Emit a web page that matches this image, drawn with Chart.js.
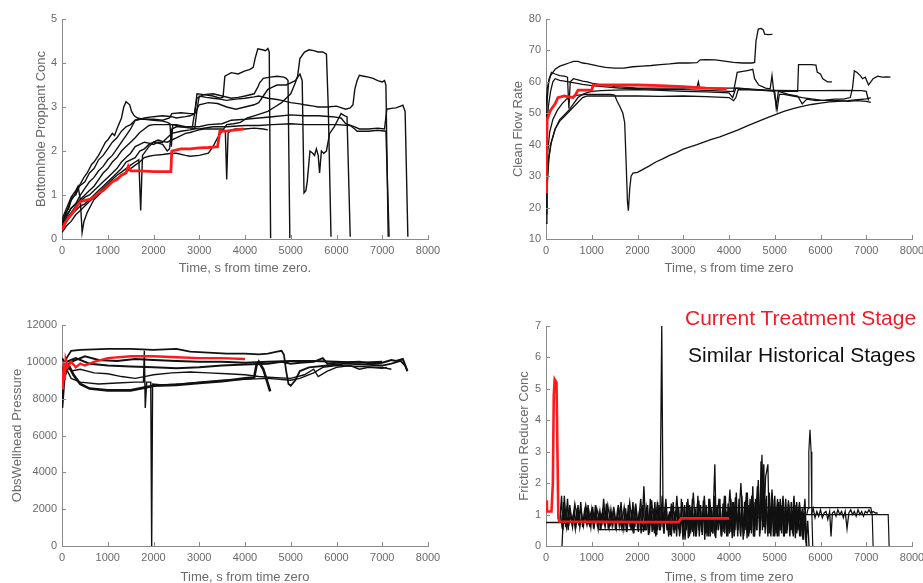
<!DOCTYPE html>
<html><head><meta charset="utf-8">
<script src="https://cdn.jsdelivr.net/npm/chart.js@4"></script>
<style>
html,body{margin:0;padding:0;background:#fff;width:923px;height:583px;overflow:hidden;position:relative;}
canvas{position:absolute;}
.leg{position:absolute;font-family:"Liberation Sans",Arial,sans-serif;font-size:21px;white-space:nowrap;line-height:24px;}
</style></head><body>
<canvas id="c1" width="450" height="290" style="left:0;top:0"></canvas>
<canvas id="c2" width="480" height="290" style="left:460px;top:0"></canvas>
<canvas id="c3" width="450" height="290" style="left:0;top:295px"></canvas>
<canvas id="c4" width="480" height="290" style="left:460px;top:295px"></canvas>
<div class="leg" style="left:685px;top:306px;color:#ee1c25">Current Treatment Stage</div>
<div class="leg" style="left:688px;top:343px;color:#111">Similar Historical Stages</div>
<script>
// ---------- tick labels ----------
const timeTicks = [0,1000,2000,3000,4000,5000,6000,7000,8000];
const bhTicks = [0,1,2,3,4,5];
const cfTicks = [10,20,30,40,50,60,70,80];
const wpTicks = [0,2000,4000,6000,8000,10000,12000];
const frTicks = [0,1,2,3,4,5,6,7];

// ---------- Bottomhole Proppant Conc ----------
const bhCurrent = [[0,0.2],[60,0.35],[120,0.45],[200,0.55],[300,0.7],[400,0.85],[500,0.88],[600,0.9],[700,0.95],[800,1.05],[900,1.1],[1000,1.2],[1100,1.3],[1200,1.35],[1300,1.45],[1400,1.5],[1450,1.65],[1500,1.55],[1600,1.55],[1700,1.55],[2000,1.53],[2380,1.53],[2400,2.0],[2600,2.05],[2800,2.05],[3000,2.07],[3200,2.08],[3400,2.1],[3450,2.45],[3600,2.45],[3800,2.48],[3970,2.5]];
const bhHist1 = [[0,0.35],[80,0.6],[150,0.7],[220,0.95],[300,1.0],[380,1.2],[500,1.3],[600,1.5],[700,1.6],[800,1.8],[900,1.9],[1000,2.05],[1100,2.2],[1200,2.3],[1300,2.45],[1400,2.55],[1500,2.6],[1600,2.7],[1700,2.72],[2000,2.72],[2200,2.7],[2350,2.75],[2400,2.85],[2600,2.87],[2800,2.85],[2900,2.85],[2950,3.3],[3100,3.28],[3300,3.25],[3450,3.2],[3520,3.22],[3560,3.7],[3700,3.78],[3850,3.75],[4000,3.82],[4100,3.85],[4180,3.9],[4220,4.1],[4280,4.32],[4380,4.3],[4450,4.28],[4500,4.33],[4530,4.25],[4560,0.02]];
const bhHist2 = [[0,0.3],[100,0.6],[180,0.85],[250,0.95],[320,1.1],[400,1.25],[480,1.4],[550,1.5],[650,1.7],[700,1.75],[800,1.9],[850,2.0],[950,2.2],[1000,2.25],[1100,2.4],[1150,2.35],[1200,2.5],[1300,2.75],[1350,3.0],[1400,3.12],[1480,3.05],[1520,2.9],[1580,2.8],[1650,2.75],[1800,2.72],[2000,2.7],[2200,2.68],[2300,2.65],[2360,2.62],[2390,2.1],[2420,2.6],[2600,2.55],[2800,2.52],[3000,2.5],[3300,2.55],[3600,2.55],[4000,2.58],[4300,2.58],[4600,2.6],[5000,2.62],[5300,2.6],[5600,2.6],[6000,2.6],[6300,2.58],[6400,2.5],[6450,2.45],[6700,2.45],[6900,2.47],[7080,2.45],[7150,0.05]];
const bhHist3 = [[0,0.4],[100,0.55],[200,0.7],[300,0.8],[400,0.9],[500,1.0],[600,1.1],[700,1.2],[800,1.35],[900,1.5],[1000,1.6],[1100,1.75],[1200,1.85],[1300,2.0],[1400,2.1],[1500,2.2],[1600,2.3],[1700,2.42],[1800,2.5],[1900,2.58],[2000,2.6],[2300,2.6],[2500,2.6],[2700,2.55],[3000,2.55],[3200,2.6],[3500,2.62],[3700,2.7],[4000,2.72],[4300,2.75],[4600,2.78],[5000,2.82],[5300,2.8],[5600,2.8],[5900,2.78],[6100,2.75],[6200,2.62],[6400,2.55],[6500,2.5],[6700,2.5],[6900,2.52],[7050,2.5],[7100,2.95],[7200,2.97],[7300,2.98],[7400,3.02],[7450,3.04],[7500,2.9],[7560,0.05]];
const bhHist4 = [[0,0.25],[100,0.45],[200,0.6],[300,0.75],[400,0.85],[500,0.95],[600,1.0],[700,1.1],[800,1.2],[900,1.3],[1000,1.4],[1100,1.5],[1200,1.6],[1300,1.75],[1400,1.85],[1500,1.95],[1600,2.1],[1700,2.15],[1800,2.2],[1900,2.18],[2000,2.15],[2100,2.2],[2200,2.2],[2300,2.3],[2400,2.4],[2600,2.45],[2800,2.48],[2900,2.5],[2960,3.0],[3000,3.25],[3150,3.22],[3300,3.2],[3450,3.18],[3600,3.15],[3800,3.18],[4000,3.2],[4200,3.23],[4300,3.25],[4500,3.2],[4700,3.17],[4800,3.15],[5000,3.1],[5200,3.07],[5300,3.05],[5500,3.02],[5600,3.0],[5800,3.0],[6000,3.02],[6200,2.95],[6300,2.98],[6360,3.05],[6400,3.4],[6450,3.6],[6500,3.72],[6600,3.7],[6700,3.68],[6800,3.65],[6900,3.6],[7000,3.57],[7050,3.6],[7080,3.5],[7130,0.05]];
const bhHist5 = [[0,0.2],[100,0.4],[200,0.55],[300,0.65],[400,0.75],[500,0.8],[600,0.9],[700,1.0],[800,1.1],[900,1.2],[1000,1.3],[1100,1.4],[1200,1.5],[1300,1.6],[1400,1.75],[1500,1.8],[1600,1.85],[1700,2.0],[1800,2.05],[1900,2.15],[2000,2.2],[2100,2.18],[2200,2.15],[2300,2.0],[2350,2.05],[2400,2.5],[2500,2.55],[2700,2.55],[2850,2.55],[2950,3.2],[3100,3.28],[3300,3.3],[3500,3.25],[3700,3.2],[3850,3.22],[4000,3.25],[4200,3.3],[4280,3.45],[4320,3.55],[4400,3.65],[4550,3.68],[4700,3.7],[4850,3.68],[4900,3.65],[4940,3.6],[4980,0.02]];
const bhHist6 = [[0,0.3],[100,0.5],[200,0.7],[300,0.8],[400,1.0],[500,1.15],[600,1.3],[700,1.4],[800,1.55],[900,1.65],[1000,1.8],[1100,1.9],[1200,2.05],[1300,2.2],[1400,2.35],[1500,2.5],[1600,2.7],[1700,2.72],[1800,2.75],[2000,2.78],[2200,2.8],[2400,2.78],[2500,2.75],[2700,2.78],[2800,2.8],[2900,2.85],[3000,3.05],[3200,3.1],[3400,3.08],[3600,3.0],[3800,2.95],[4000,3.0],[4200,3.05],[4300,3.1],[4400,3.25],[4500,3.4],[4600,3.45],[4700,3.5],[4900,3.5],[5000,3.55],[5100,3.6],[5200,3.75],[5250,3.6],[5290,1.05],[5330,1.1],[5360,1.3],[5420,2.0],[5480,1.95],[5520,1.9],[5560,2.05],[5600,1.9],[5630,1.5],[5670,2.0],[5720,1.95],[5780,2.0],[5850,2.4],[5950,2.55],[6050,2.75],[6100,2.85],[6180,2.8],[6230,2.78],[6300,0.05]];
const bhHist7 = [[0,0.45],[100,0.7],[200,0.95],[300,1.1],[350,1.2],[400,0.9],[440,0.15],[480,0.4],[550,0.6],[650,0.8],[700,0.9],[800,1.0],[900,1.1],[1000,1.2],[1100,1.3],[1200,1.38],[1300,1.45],[1400,1.52],[1500,1.6],[1600,1.68],[1700,1.75],[1800,1.85],[1900,1.88],[2000,1.9],[2200,1.92],[2400,1.95],[2500,1.95],[2700,1.9],[2800,1.88],[3000,1.9],[3200,1.95],[3300,2.1],[3400,2.3],[3500,2.45],[3600,2.6],[3750,2.62],[3900,2.65],[4050,2.75],[4200,2.8],[4350,2.85],[4500,2.9],[4650,3.0],[4800,3.1],[4900,3.2],[5000,3.3],[5100,3.55],[5150,3.7],[5200,4.1],[5300,4.25],[5400,4.3],[5500,4.28],[5600,4.25],[5700,4.25],[5780,4.2],[5820,3.0],[5880,0.05]];
const bhHist8 = [[0,0.15],[100,0.3],[200,0.4],[300,0.55],[400,0.65],[500,0.75],[600,0.85],[700,0.95],[800,1.05],[900,1.15],[1000,1.25],[1100,1.35],[1200,1.45],[1300,1.52],[1400,1.6],[1500,1.68],[1600,1.75],[1680,1.8],[1700,1.2],[1720,0.65],[1740,1.3],[1760,1.9],[1900,2.1],[2000,2.2],[2100,2.25],[2200,2.22],[2300,2.2],[2400,2.25],[2500,2.3],[2600,2.35],[2700,2.4],[2800,2.42],[2900,2.45],[3000,2.48],[3100,2.5],[3300,2.5],[3500,2.5],[3570,2.45],[3600,1.35],[3630,2.4],[3700,2.48],[3800,2.5],[4000,2.5],[4200,2.52],[4400,2.5],[4500,2.48]];

// ---------- Clean Flow Rate ----------
const cfCurrent = [[0,25],[10,35],[25,48],[60,49.5],[100,51],[200,53],[260,55],[400,55.5],[590,55],[650,56],[700,57.4],[1000,57.4],[1030,59],[1500,59],[2000,59],[2500,58.8],[3000,58.5],[3500,58],[3950,57.7]];
const cfHist1 = [[0,45],[30,55],[60,60],[100,62],[150,63],[200,64],[300,65],[400,65.5],[500,66],[600,66.5],[700,66.5],[800,66],[900,65.8],[1000,65.5],[1150,65],[1300,64.6],[1500,64.4],[1700,64.4],[1900,64.8],[2100,65],[2300,65.2],[2500,65.5],[2700,65.7],[2900,66],[3100,66],[3300,66.1],[3370,67],[3500,67.1],[3700,67],[3900,66.6],[4100,66.2],[4300,66],[4500,66],[4560,66.2],[4590,73],[4640,76.8],[4700,77],[4750,76.5],[4780,75.2],[4850,75],[4950,75.1]];
const cfHist2 = [[0,52],[30,58],[70,61],[120,63],[200,62.5],[300,62],[400,61.8],[470,61.5],[500,51.5],[530,60],[600,61],[700,60.6],[800,60.2],[900,60],[1000,59.6],[1200,59],[1400,58.8],[1500,58.5],[1700,58.3],[2000,58],[2500,58],[3000,58],[3300,58.2],[3330,60],[3360,58],[3600,58],[4000,58],[4200,58],[4500,57.7],[4800,57.4],[5000,57.2],[5200,57],[5500,57],[5520,65.5],[5650,65.5],[5800,65.5],[5900,65.3],[5930,63],[6000,62.5],[6050,61],[6100,60.5],[6150,60],[6250,60]];
const cfHist3 = [[0,20],[15,30],[40,38],[80,44],[150,48],[250,51],[350,53],[450,54.5],[550,55.2],[700,55.8],[900,56],[1200,56],[1400,56],[1500,55.8],[1550,54],[1620,52],[1680,50],[1720,47],[1750,35],[1780,22],[1800,19],[1830,26],[1860,30],[1900,31],[2000,31.2],[2100,32],[2250,33.2],[2400,34.5],[2550,35.5],[2700,36.6],[2850,37.5],[3000,38.6],[3150,39.3],[3300,40],[3450,40.8],[3600,41.6],[3800,42.5],[4000,43.6],[4200,44.7],[4400,46],[4600,47.2],[4800,48.4],[5000,49.5],[5200,50.6],[5400,51.5],[5600,52.2],[5800,52.8],[6000,53.2],[6200,53.6],[6400,53.8],[6600,54],[6800,54.3],[7000,54.6],[7100,55]];
const cfHist4 = [[0,18],[20,28],[60,36],[120,41],[200,45],[300,48],[400,49.5],[500,51],[600,53],[700,55],[800,56],[900,56.6],[1000,57],[1200,57.2],[1500,57.4],[2000,57.5],[2500,57.3],[3000,57],[3500,56.8],[4000,56.5],[4080,55],[4150,58],[4300,57.8],[4500,57.5],[4800,57.2],[5000,57],[5030,52],[5080,57],[5300,56],[5500,55.5],[5600,53],[5700,54.5],[5900,54],[6100,54.2],[6300,54.5],[6500,54.5],[6650,55],[6700,58],[6740,63.5],[6800,63],[6870,62],[6920,61],[6980,61.5],[7050,59],[7100,60],[7150,61],[7250,61.8],[7350,61.5],[7450,61.6],[7530,61.5]];
const cfHist5 = [[0,30],[20,45],[50,52],[100,57],[150,60],[200,61],[300,60.5],[500,60],[800,59.2],[1000,58.8],[1300,58.4],[1600,58],[2000,57.8],[2500,57.6],[3000,57.5],[3500,57.3],[4000,57],[4100,57],[4140,60],[4180,63],[4300,63.3],[4400,63.6],[4520,64],[4560,61],[4650,59],[4800,58],[4900,57.8],[4940,62],[4970,58],[5050,51],[5100,56],[5200,56],[5400,55.5],[5600,55],[5800,54.6],[6000,54.2],[6200,54],[6400,54],[6600,53.8],[6800,54],[7000,53.8],[7100,53.5]];
const cfHist6 = [[0,15],[20,25],[60,35],[100,40],[200,45],[300,47.5],[400,49],[500,50.5],[600,52],[700,53.5],[800,55],[900,55.5],[1100,55.5],[1500,55.5],[2000,55.5],[2500,55.4],[3000,55.5],[3500,55.3],[4000,55],[4100,54],[4150,55],[4200,57.5],[5000,57.3],[5500,57.2],[6000,57.2],[6500,57.3],[6900,57.2],[7000,57],[7050,54]];

// ---------- ObsWellhead Pressure ----------
const wpCurrent = [[0,9500],[20,8500],[40,10000],[60,9000],[80,10100],[120,9700],[200,10000],[300,9700],[400,9900],[500,9800],[700,10000],[1000,10200],[1500,10300],[2000,10300],[2500,10250],[3000,10200],[3500,10200],[4000,10150]];
const wpHist1 = [[0,9500],[100,10200],[200,10600],[400,10650],[1000,10700],[1500,10700],[2000,10650],[2500,10700],[2800,10550],[3200,10500],[3600,10450],[4000,10450],[4300,10400],[4500,10450],[4700,10550],[4800,10600],[4850,10400],[4900,9500],[4950,8800],[5000,8700],[5100,9000],[5200,9500],[5400,9700],[5800,9800],[6200,9900],[6600,9850],[7000,9800],[7200,9900],[7400,10050],[7500,9800],[7550,9500]];
const wpHist2 = [[0,7500],[50,9200],[150,9800],[250,9300],[400,8800],[600,8550],[1000,8450],[1500,8450],[1800,8600],[2000,8700],[2500,8750],[3000,8850],[3500,8950],[4000,9100],[4200,9150],[4250,9800],[4300,10000],[4400,9600],[4500,8800],[4550,8400]];
const wpHist3 = [[0,9300],[100,9600],[200,9100],[400,8900],[800,8800],[1200,8850],[1600,8900],[1780,8900],[1800,10600],[1820,7500],[1850,8900],[1940,8900],[1960,0],[1980,8800],[2200,8750],[2600,8800],[3000,8900],[3500,9000],[4000,9050],[4500,9100],[5000,9000],[5200,9100],[5500,9400],[5700,9700],[6000,9800],[6500,9750],[7000,9700],[7200,9600]];
const wpHist4 = [[0,9500],[100,10000],[300,10200],[600,9900],[1000,9800],[1500,9750],[2000,9700],[2500,9650],[3000,9700],[3500,9800],[4000,9850],[4500,9900],[4800,10000],[5000,9900],[5200,9950],[5500,10000],[5700,10200],[5800,9900],[6000,9950],[6500,10000],[6800,9900],[7000,9950],[7200,10100],[7300,10050],[7450,10150],[7550,9500]];
const wpHist5 = [[0,9200],[100,9800],[200,9500],[400,9600],[700,9400],[1000,9350],[1300,9200],[1600,9100],[1800,9200],[2000,9300],[2400,9400],[2800,9450],[3200,9400],[3600,9350],[4000,9300],[4300,9200],[4600,9150],[5000,9100],[5300,9300],[5500,9600],[5600,9200],[5800,9500],[6000,9700],[6300,9800],[6500,9600],[6700,9700],[7000,9650],[7100,9700]];
const wpHist6 = [[0,10200],[100,9800],[200,10000],[500,10300],[800,10100],[1200,10050],[1600,10150],[2000,10100],[2500,10050],[3000,10000],[3500,10000],[4000,9950],[4500,10000],[5000,10050],[5500,10050],[6000,10000],[6500,9950],[7000,10000]];

// ---------- Friction Reducer Conc ----------
const frCurrent = [[0,1.45],[20,1.1],[120,1.1],[150,2.0],[170,4.8],[190,5.3],[230,5.2],[250,3.0],[270,0.9],[290,0.78],[1000,0.77],[2000,0.76],[2900,0.76],[2950,0.88],[3500,0.88],[4000,0.88]];
const frNoiseA = [[0,0.75],[300,0.75],[340,1.6],[370,0.5],[400,1.2],[430,0.6],[470,1.5],[500,0.7],[540,1.0],[580,0.6],[620,1.1],[660,0.7],[700,1.3],[740,0.6],[780,1.0],[820,0.65],[860,1.2],[900,0.7],[940,1.05],[980,0.6],[1020,1.25],[1060,0.7],[1100,1.0],[1140,0.55],[1180,1.1],[1220,0.65],[1260,1.5],[1300,0.7],[1340,1.0],[1380,0.6],[1420,1.15],[1460,0.65],[1500,1.05],[1540,0.6],[1580,1.3],[1620,0.7],[1660,1.0],[1700,0.55],[1740,1.2],[1780,0.6],[1820,1.05],[1860,0.5],[1900,1.4],[1940,0.6],[1980,1.1],[2020,0.45],[2060,1.2],[2100,0.6],[2140,1.9],[2180,0.5],[2220,1.3],[2260,0.4],[2300,1.1],[2340,0.5],[2380,1.4],[2420,0.35],[2460,1.2],[2500,0.5],[2540,1.6],[2580,0.4],[2620,1.3],[2660,0.5],[2700,1.1],[2740,0.3],[2780,1.4],[2820,0.5],[2860,1.2],[2900,0.6],[2950,0.9]];
const frNoiseB = [[350,0.0],[400,1.6],[450,0.6],[510,1.2],[570,0.7],[630,1.35],[690,0.8],[750,1.15],[810,0.7],[870,1.3],[930,0.75],[990,1.1],[1050,0.6],[1110,1.2],[1170,0.75],[1230,1.05],[1290,0.6],[1350,1.3],[1410,0.7],[1470,1.1],[1530,0.65],[1590,1.2],[1650,0.6],[1710,1.25],[1770,0.7],[1830,1.4],[1890,0.55],[1950,1.2],[2010,0.6],[2070,1.5],[2130,0.45],[2190,1.25],[2250,0.5],[2310,1.45],[2370,0.4],[2430,1.3],[2490,0.5],[2530,7.0],[2560,0.6],[2620,1.5],[2680,0.3],[2740,1.35],[2800,0.4],[2860,1.6],[2920,0.3],[2980,1.4],[3040,0.2],[3100,1.5],[3160,0.4],[3220,1.7],[3280,0.3],[3340,1.45],[3400,0.45],[3460,1.6],[3520,0.3],[3580,1.5],[3640,0.4],[3690,2.6],[3720,0.5],[3780,1.5],[3840,0.3],[3900,1.6],[3960,0.4],[4020,1.8],[4080,0.3],[4140,1.55],[4200,0.5],[4260,2.0],[4320,0.3],[4380,1.7],[4440,0.4],[4500,1.6],[4560,0.3],[4620,1.9],[4680,0.5],[4720,2.9],[4760,0.6],[4800,2.2],[4850,2.6],[4880,0.4],[4940,1.8],[5000,0.3],[5060,1.5],[5120,0.5],[5180,1.6],[5240,0.4],[5300,1.45],[5360,0.5],[5420,1.6],[5480,0.4],[5540,1.4],[5600,0.5],[5660,1.5],[5700,0.0]];
const frNoiseC = [[2400,0.9],[2435,0.5],[2470,1.3],[2505,0.6],[2540,1.1],[2575,0.4],[2610,1.2],[2645,0.5],[2680,1.0],[2715,0.35],[2750,1.3],[2785,0.5],[2820,1.1],[2855,0.3],[2890,1.25],[2925,0.5],[2960,1.0],[2995,0.2],[3030,1.3],[3065,0.5],[3100,1.1],[3135,0.3],[3170,1.2],[3205,0.45],[3240,1.05],[3275,0.3],[3310,1.35],[3345,0.5],[3380,1.1],[3415,0.35],[3450,1.25],[3485,0.4],[3520,1.0],[3555,0.3],[3590,1.3],[3625,0.45],[3660,1.1],[3695,0.3],[3730,1.2],[3765,0.5],[3800,1.0],[3835,0.35],[3870,1.35],[3905,0.4],[3940,1.1],[3975,0.3],[4010,1.25],[4045,0.45],[4080,1.4],[4115,0.3],[4150,1.2],[4185,0.5],[4220,1.5],[4255,0.3],[4290,1.3],[4325,0.4],[4360,1.45],[4395,0.25],[4430,1.3],[4465,0.5],[4500,1.6],[4535,0.3],[4570,1.4],[4605,0.5],[4640,1.8],[4675,0.4],[4700,2.7],[4725,0.8],[4750,2.2],[4775,0.6],[4810,1.5],[4845,0.4],[4880,1.3],[4915,0.3],[4950,1.5],[4985,0.4],[5020,1.2],[5055,0.3],[5090,1.4],[5125,0.5],[5160,1.3],[5195,0.3],[5230,1.2],[5265,0.4],[5300,1.35],[5335,0.5],[5370,1.1],[5405,0.3],[5440,1.3],[5475,0.45],[5510,1.2],[5545,0.3],[5580,1.1],[5615,0.2],[5650,1.0],[5685,0.1],[5720,0.8],[5750,0.0]];
const frNoiseD = [[5800,1.0],[5840,1.2],[5880,0.9],[5920,1.1],[5960,0.95],[6000,1.15],[6040,0.9],[6080,1.05],[6120,1.1],[6160,0.85],[6200,1.1],[6230,0.3],[6260,1.05],[6300,1.1],[6340,0.95],[6380,1.15],[6420,1.0],[6460,1.1],[6500,0.9],[6540,1.1],[6580,0.55],[6620,1.05],[6660,1.15],[6700,1.0],[6740,1.1],[6780,0.95],[6820,1.15],[6860,1.0],[6900,1.1],[6940,0.95],[6980,1.1],[7020,1.05],[7060,1.15],[7100,1.05],[7150,1.1],[7200,1.05],[7250,1.05]];
const frNoiseE = [[320,1.0],[355,0.55],[385,1.4],[415,0.7],[450,1.1],[485,0.5],[520,1.3],[560,0.8],[600,1.0],[640,0.55],[680,1.2],[720,0.65],[760,1.4],[800,0.6],[840,1.1],[880,0.75],[920,1.3],[960,0.6],[1000,1.15],[1040,0.55],[1080,1.3],[1120,0.7],[1160,1.05],[1200,0.5],[1240,1.2],[1280,0.65],[1320,1.35],[1360,0.55],[1400,1.1],[1440,0.7],[1480,1.25],[1520,0.5],[1560,1.1],[1600,0.65],[1640,1.4],[1680,0.6],[1720,1.0],[1760,0.45],[1800,1.3],[1840,0.6],[1880,1.15],[1920,0.4],[1960,1.35],[2000,0.55],[2040,1.1],[2080,0.4],[2120,1.3],[2160,0.5],[2200,1.2],[2240,0.35],[2280,1.5],[2320,0.45],[2360,1.2],[2400,0.3],[2440,1.4],[2480,0.5]];
const frNoiseF = [[2900,1.2],[2930,0.4],[2960,1.5],[2990,0.3],[3020,1.2],[3050,0.5],[3080,1.4],[3110,0.25],[3140,1.3],[3170,0.5],[3200,1.5],[3230,0.3],[3260,1.2],[3290,0.4],[3320,1.6],[3350,0.3],[3380,1.3],[3410,0.5],[3440,1.45],[3470,0.2],[3500,1.3],[3530,0.45],[3560,1.5],[3590,0.3],[3620,1.2],[3650,0.4],[3680,1.6],[3710,0.25],[3740,1.3],[3770,0.5],[3800,1.5],[3830,0.3],[3860,1.2],[3890,0.45],[3920,1.6],[3950,0.3],[3980,1.35],[4010,0.4],[4040,1.5],[4070,0.25],[4100,1.4],[4130,0.5],[4160,1.7],[4190,0.3],[4220,1.3],[4250,0.4],[4280,1.6],[4310,0.2],[4340,1.4],[4370,0.5],[4400,1.7],[4430,0.3],[4460,1.5],[4490,0.4],[4520,1.9],[4550,0.3],[4580,1.5],[4610,0.5],[4640,2.1],[4670,0.3],[4700,1.8],[4730,0.5],[4760,2.6],[4790,0.4],[4820,1.6],[4850,0.3],[4880,1.7],[4910,0.5],[4940,1.4],[4970,0.3],[5000,1.6],[5030,0.4],[5060,1.3],[5090,0.3],[5120,1.5],[5150,0.4],[5180,1.3],[5210,0.3],[5240,1.5],[5270,0.5],[5300,1.2],[5330,0.3],[5360,1.4],[5390,0.4],[5420,1.3],[5450,0.25],[5480,1.4],[5510,0.5],[5540,1.3],[5570,0.3],[5600,1.2],[5630,0.2],[5660,1.1],[5690,0.0]];
const frBump = [[5700,1.0],[5730,1.2],[5745,3.0],[5770,3.7],[5795,3.0],[5810,1.1],[5830,0.0]];
const frStepA = [[2480,0.9],[2500,1.22],[4000,1.22],[5700,1.22],[7100,1.22],[7130,1.0],[7150,0.0]];
const frStepB = [[300,0.75],[1150,0.75],[1160,0.52],[2200,0.52],[2220,0.8],[3000,0.8],[4500,0.9],[5700,1.0],[6500,1.0],[7480,1.0],[7500,0.0]];

// ---------- helpers ----------
const RED = '#ff1a1a', BLK = '#111111';
const FONT = '"Liberation Sans", Arial, sans-serif';
const TXT = '#6a6a6a', AXIS = '#8a8a8a';
function ds(pts, color, w){
  return {data: pts.map(p => ({x:p[0], y:p[1]})), borderColor: color, borderWidth: w,
    showLine: true, pointRadius: 0, fill: false, tension: 0};
}
const tickMarks = {id:'tickMarks', afterDraw(chart){
  const {ctx, scales:{x, y}} = chart;
  ctx.save(); ctx.strokeStyle = AXIS; ctx.lineWidth = 1; ctx.beginPath();
  x.ticks.forEach(t => { const px = Math.round(x.getPixelForValue(t.value)) + 0.5; ctx.moveTo(px, y.bottom); ctx.lineTo(px, y.bottom - 4); });
  y.ticks.forEach(t => { const py = Math.round(y.getPixelForValue(t.value)) + 0.5; ctx.moveTo(x.left, py); ctx.lineTo(x.left + 4, py); });
  ctx.stroke(); ctx.restore();
}};
function make(id, cfg){
  const yT = cfg.yTicks;
  new Chart(document.getElementById(id), {
    type: 'scatter',
    data: {datasets: cfg.datasets},
    options: {
      responsive: false, animation: false, events: [],
      layout: {padding: cfg.pad},
      plugins: {legend: {display: false}, tooltip: {enabled: false}},
      scales: {
        x: {type: 'linear', min: timeTicks[0], max: timeTicks[timeTicks.length-1],
          afterBuildTicks: s => { s.ticks = timeTicks.map(v => ({value: v})); },
          ticks: {autoSkip: false, maxRotation: 0, padding: 5, color: TXT, font: {family: FONT, size: 11}, callback: v => String(v)},
          grid: {display: false, drawTicks: false},
          border: {display: true, color: AXIS, width: 1},
          title: {display: true, text: cfg.xTitle, color: TXT, font: {family: FONT, size: 13}, padding: 0},
          afterFit: s => { s.height = cfg.xH; }},
        y: {type: 'linear', min: yT[0], max: yT[yT.length-1],
          afterBuildTicks: s => { s.ticks = yT.map(v => ({value: v})); },
          ticks: {autoSkip: false, padding: 5, color: TXT, font: {family: FONT, size: 11}, callback: v => String(v)},
          grid: {display: false, drawTicks: false},
          border: {display: true, color: AXIS, width: 1},
          title: {display: true, text: cfg.yTitle, color: TXT, font: {family: FONT, size: 13}, padding: 0},
          afterFit: s => { s.width = cfg.yW; }}
      }
    },
    plugins: [tickMarks]
  });
}

make('c1', {yTicks: bhTicks, xTitle: 'Time, s from time zero.', yTitle: 'Bottomhole Proppant Conc',
  pad: {left: 34, top: 19, right: 22, bottom: 14}, xH: 37, yW: 28,
  datasets: [ds(bhCurrent, RED, 2.8), ds(bhHist1, BLK, 1.4), ds(bhHist2, BLK, 1.4), ds(bhHist3, BLK, 1.4), ds(bhHist4, BLK, 1.4),
    ds(bhHist5, BLK, 1.4), ds(bhHist6, BLK, 1.4), ds(bhHist7, BLK, 1.4), ds(bhHist8, BLK, 1.4)]});

make('c2', {yTicks: cfTicks, xTitle: 'Time, s from time zero', yTitle: 'Clean Flow Rate',
  pad: {left: 51, top: 19, right: 28, bottom: 14}, xH: 37, yW: 35,
  datasets: [ds(cfCurrent, RED, 2.8), ds(cfHist1, BLK, 1.3), ds(cfHist2, BLK, 1.3), ds(cfHist3, BLK, 1.3), ds(cfHist4, BLK, 1.3),
    ds(cfHist5, BLK, 1.3), ds(cfHist6, BLK, 1.3)]});

make('c3', {yTicks: wpTicks, xTitle: 'Time, s from time zero', yTitle: 'ObsWellhead Pressure',
  pad: {left: 10, top: 30, right: 22, bottom: 0}, xH: 39, yW: 52,
  datasets: [ds(wpCurrent, RED, 2.4), ds(wpHist1, BLK, 1.8), ds(wpHist2, BLK, 2.6), ds(wpHist3, BLK, 1.4), ds(wpHist4, BLK, 2.0),
    ds(wpHist5, BLK, 1.4), ds(wpHist6, BLK, 2.0)]});

make('c4', {yTicks: frTicks, xTitle: 'Time, s from time zero', yTitle: 'Friction Reducer Conc',
  pad: {left: 57, top: 31, right: 28, bottom: 0}, xH: 39, yW: 29,
  datasets: [ds(frCurrent, RED, 2.6), ds(frNoiseA, BLK, 1.4), ds(frNoiseB, BLK, 1.3), ds(frNoiseC, BLK, 1.4), ds(frNoiseD, BLK, 1.3),
    ds(frNoiseE, BLK, 1.4), ds(frNoiseF, BLK, 1.4), ds(frBump, BLK, 1.2), ds(frStepA, BLK, 1.2), ds(frStepB, BLK, 1.2)]});
</script>
</body></html>
